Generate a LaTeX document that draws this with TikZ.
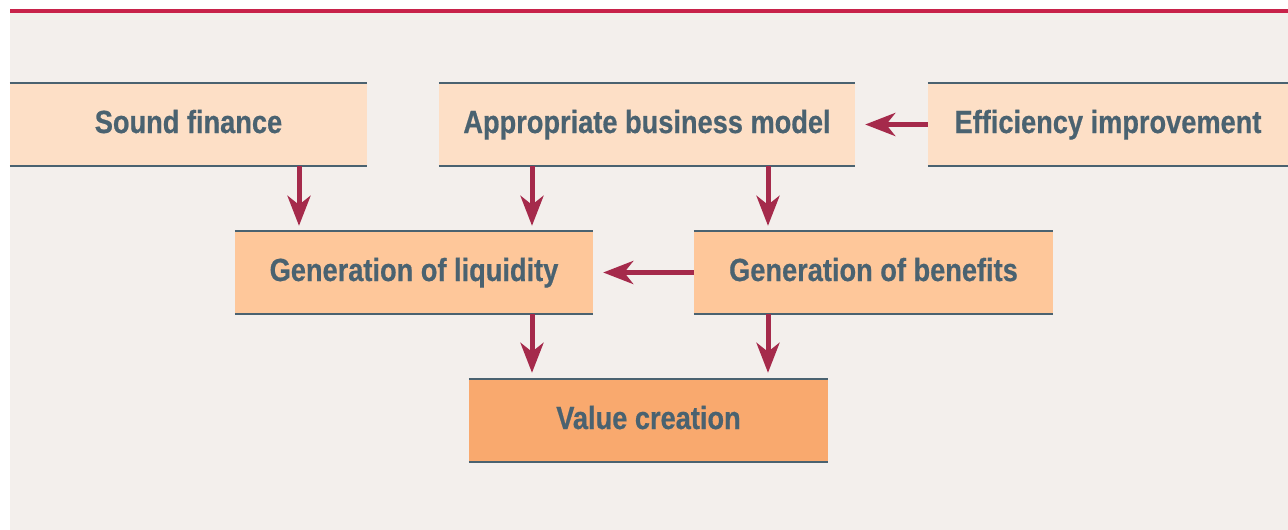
\documentclass[tikz,border=0pt]{standalone}
\usepackage{fontspec}
\setmainfont{Liberation Sans}[FakeStretch=0.85, BoldFeatures={FakeBold=0.6}]
\usetikzlibrary{arrows.meta}
\definecolor{panel}{HTML}{F3EFEC}
\definecolor{topline}{HTML}{C8224A}
\definecolor{rule}{HTML}{4A6270}
\definecolor{light}{HTML}{FDDFC6}
\definecolor{mid}{HTML}{FEC79A}
\definecolor{deep}{HTML}{F9A96E}
\definecolor{arrowc}{HTML}{A52A4B}
\tikzset{
  box/.style={minimum height=83pt, inner sep=0pt, text=rule,
    text height=17pt, text depth=0pt,
    font=\fontsize{32}{36}\selectfont\bfseries},
  arr/.style={draw=arrowc, line width=5pt,
    -{Stealth[length=30pt, width=23pt, inset=9pt]}},
}
\begin{document}
\begin{tikzpicture}[x=1pt, y=-1pt]
  \useasboundingbox (0,0) rectangle (1288,530);
  \fill[white] (0,0) rectangle (1288,530);
  \fill[panel] (10,12) rectangle (1288,530);
  \fill[topline] (10,9) rectangle (1288,12.5);

  % boxes
  \node[box, fill=light, minimum width=357pt] (sf)  at (188.5,124.5) {Sound finance};
  \node[box, fill=light, minimum width=416pt] (abm) at (647,124.5) {Appropriate business model};
  \node[box, fill=light, minimum width=360pt] (eff) at (1108,124.5) {Efficiency improvement};
  \node[box, fill=mid,   minimum width=358pt] (liq) at (414,272.5) {Generation of liquidity};
  \node[box, fill=mid,   minimum width=359pt] (ben) at (873.5,272.5) {Generation of benefits};
  \node[box, fill=deep,  minimum width=359pt] (val) at (648.5,420.5) {Value creation};

  % top and bottom rules of each box
  \foreach \n in {sf,abm,eff,liq,ben,val}{
    \draw[rule, line width=2.3pt] (\n.north west) -- (\n.north east);
    \draw[rule, line width=2.3pt] (\n.south west) -- (\n.south east);
  }

  % connectors
  \draw[arr, shorten >=5pt] (299,0 |- sf.south)  -- (299,0 |- liq.north);
  \draw[arr, shorten >=5pt] (532,0 |- abm.south) -- (532,0 |- liq.north);
  \draw[arr, shorten >=5pt] (768,0 |- abm.south) -- (768,0 |- ben.north);
  \draw[arr, shorten >=10pt] (eff.west) -- (abm.east);
  \draw[arr, shorten >=10pt] (ben.west) -- (liq.east);
  \draw[arr, shorten >=6pt] (532,0 |- liq.south) -- (532,0 |- val.north);
  \draw[arr, shorten >=6pt] (768,0 |- ben.south) -- (768,0 |- val.north);
\end{tikzpicture}
\end{document}
